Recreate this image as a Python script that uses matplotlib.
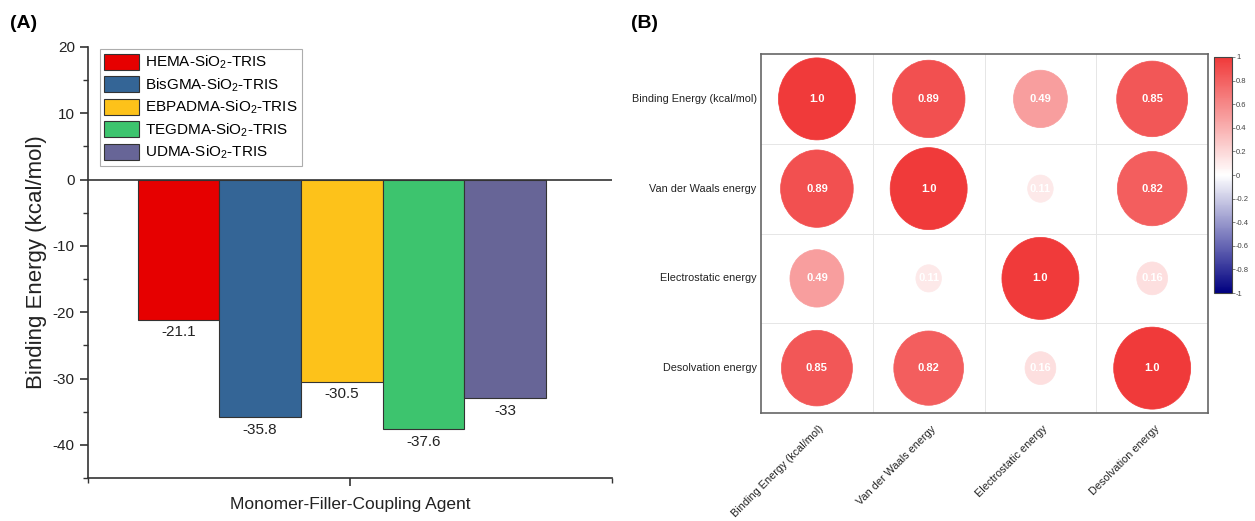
import numpy as np
import matplotlib
matplotlib.use("Agg")
import matplotlib.pyplot as plt
from matplotlib.patches import Ellipse
from matplotlib.colors import LinearSegmentedColormap, Normalize
from matplotlib.cm import ScalarMappable
from matplotlib.ticker import MultipleLocator, FixedLocator, NullFormatter

plt.rcParams['font.family'] = ['Liberation Sans', 'DejaVu Sans']
plt.rcParams['mathtext.fontset'] = 'custom'
plt.rcParams['mathtext.rm'] = 'Liberation Sans'
plt.rcParams['mathtext.it'] = 'Liberation Sans:italic'
plt.rcParams['mathtext.bf'] = 'Liberation Sans:bold'
plt.rcParams['axes.unicode_minus'] = False

# panel A data
systems = ['HEMA-SiO$_{2}$-TRIS', 'BisGMA-SiO$_{2}$-TRIS', 'EBPADMA-SiO$_{2}$-TRIS',
           'TEGDMA-SiO$_{2}$-TRIS', 'UDMA-SiO$_{2}$-TRIS']
binding = [-21.1, -35.8, -30.5, -37.6, -33]
bar_labels = ['-21.1', '-35.8', '-30.5', '-37.6', '-33']
bar_colors = ['#E60000', '#346596', '#FDC21A', '#3DC46E', '#676597']

# panel B data
terms = ['Binding Energy (kcal/mol)', 'Van der Waals energy',
         'Electrostatic energy', 'Desolvation energy']
corr = np.array([[1.0, 0.89, 0.49, 0.85],
                 [0.89, 1.0, 0.11, 0.82],
                 [0.49, 0.11, 1.0, 0.16],
                 [0.85, 0.82, 0.16, 1.0]])

fig = plt.figure(figsize=(12.55, 5.21), dpi=100)

# ---------------- (A) bar chart ----------------
ax = fig.add_axes([0.0701, 0.0825, 0.4175, 0.8273])
x = np.arange(len(binding))
ax.bar(x, binding, width=1.0, color=bar_colors, edgecolor='#333333',
       linewidth=0.8, zorder=2)
for xi, v, lab in zip(x, binding, bar_labels):
    ax.annotate(lab, (xi, v), xytext=(0, -4), textcoords='offset points',
                ha='center', va='top', fontsize=11, color='#222222')

ax.axhline(0, color='#333333', lw=1.2, zorder=3)
ax.set_xlim(-1.11, 5.31)
ax.set_ylim(-45, 20)
ax.yaxis.set_major_locator(MultipleLocator(10))
ax.yaxis.set_minor_locator(MultipleLocator(5))
ax.xaxis.set_major_locator(FixedLocator([2.1]))
ax.xaxis.set_minor_locator(FixedLocator([-1.11, 5.31]))
ax.xaxis.set_major_formatter(NullFormatter())
for s in ['top', 'right']:
    ax.spines[s].set_visible(False)
for s in ['left', 'bottom']:
    ax.spines[s].set_color('#333333')
    ax.spines[s].set_linewidth(1.2)
ax.tick_params(axis='both', which='major', direction='out', length=6, width=1.2,
               color='#333333', labelsize=11, labelcolor='#222222')
ax.tick_params(axis='both', which='minor', direction='out', length=3.5, width=1.0,
               color='#333333')
ax.set_ylabel('Binding Energy (kcal/mol)', fontsize=16, color='#222222', labelpad=4)
ax.set_xlabel('Monomer-Filler-Coupling Agent', fontsize=12.5, color='#222222', labelpad=4)

handles = [plt.Rectangle((0, 0), 1, 1, facecolor=c, edgecolor='#333333', lw=0.8)
           for c in bar_colors]
leg = ax.legend(handles, systems, loc='upper left', bbox_to_anchor=(0.022, 0.995),
                fontsize=11, frameon=True, fancybox=False, edgecolor='#999999',
                borderpad=0.3, labelspacing=0.32, handlelength=2.3,
                handleheight=1.25, handletextpad=0.35, borderaxespad=0.0)
leg.get_frame().set_linewidth(0.8)

fig.text(0.008, 0.955, '(A)', fontsize=14, fontweight='bold', va='center')

# ---------------- (B) correlation plot ----------------
cmap = LinearSegmentedColormap.from_list('bwr_corr', ['#000080', '#FFFFFF', '#F03A3A'])
norm = Normalize(-1, 1)

bx = fig.add_axes([0.6064, 0.2073, 0.3562, 0.689])
n = len(terms)
bx.set_xlim(0, n)
bx.set_ylim(n, 0)
for k in range(1, n):
    bx.axvline(k, color='#E6E6E6', lw=0.7, zorder=0)
    bx.axhline(k, color='#E6E6E6', lw=0.7, zorder=0)
for i in range(n):
    for j in range(n):
        v = corr[i, j]
        s = np.sqrt(abs(v))
        col = cmap(norm(v))
        bx.add_patch(Ellipse((j + 0.5, i + 0.5), 0.689 * s, 0.914 * s,
                             facecolor=col, edgecolor=col, lw=0.5, zorder=2))
        txt = '1.0' if v == 1 else f'{v:.2f}'
        bx.text(j + 0.5, i + 0.5, txt, ha='center', va='center', fontsize=8,
                fontweight='bold', color='white', zorder=3)
bx.set_xticks([])
bx.set_yticks([])
for s in bx.spines.values():
    s.set_color('#666666')
    s.set_linewidth(1.2)
for i, t in enumerate(terms):
    bx.text(-0.04, i + 0.5, t, ha='right', va='center', fontsize=7.8, color='#222222')
    bx.text(i + 0.58, n + 0.12, t, ha='right', va='top', rotation=45,
            fontsize=7.8, color='#222222')

cax = fig.add_axes([0.9673, 0.4376, 0.0143, 0.453])
cb = fig.colorbar(ScalarMappable(norm=norm, cmap=cmap), cax=cax)
cb.set_ticks(np.round(np.arange(-1, 1.01, 0.2), 1))
cb.set_ticklabels(['-1', '-0.8', '-0.6', '-0.4', '-0.2', '0',
                   '0.2', '0.4', '0.6', '0.8', '1'])
cb.ax.tick_params(labelsize=5.5, length=2, width=0.5, pad=1,
                  color='#555555', labelcolor='#444444')
cb.outline.set_linewidth(0.8)
cb.outline.set_edgecolor('#444444')

fig.text(0.503, 0.955, '(B)', fontsize=14, fontweight='bold', va='center')

fig.savefig('out.png', dpi=100)
